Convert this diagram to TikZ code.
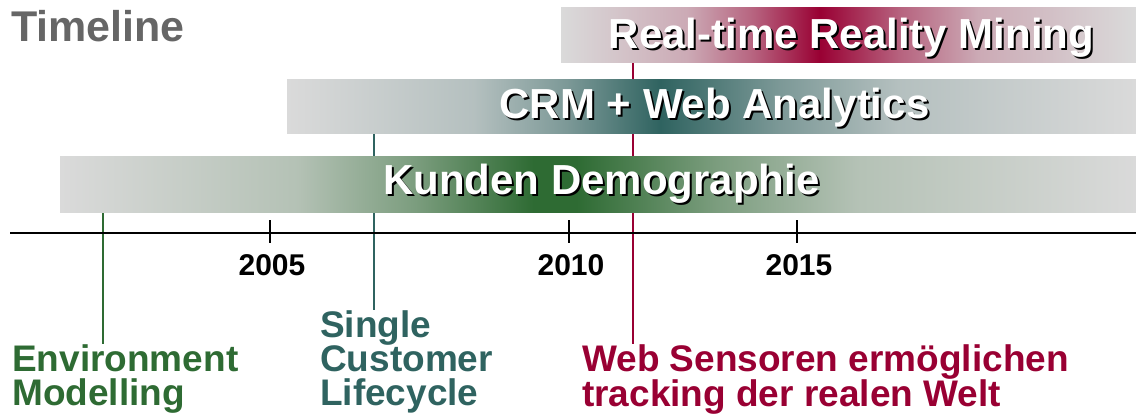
\documentclass[tikz,border=0pt]{standalone}
\usepackage{fontspec}
\setmainfont{Liberation Sans}
\usepackage{tikz}

\definecolor{envgreen}{RGB}{46,107,51}
\definecolor{custteal}{RGB}{47,99,96}
\definecolor{sensred}{RGB}{153,0,51}
\definecolor{bargray}{RGB}{218,218,218}
\definecolor{titlegray}{RGB}{102,102,102}
\colorlet{envlight}{envgreen!22!bargray}
\colorlet{envmid}{envgreen!55!bargray}
\colorlet{custlight}{custteal!22!bargray}
\colorlet{custmid}{custteal!55!bargray}
\colorlet{senslight}{sensred!22!bargray}
\colorlet{sensmid}{sensred!55!bargray}

% path box runs from 25bp to 75bp
\pgfdeclarehorizontalshading{kundenshade}{100bp}{color(0bp)=(bargray); color(25bp)=(bargray); color(36bp)=(envlight); color(41.5bp)=(envmid); color(47bp)=(envgreen); color(49bp)=(envgreen); color(55.5bp)=(envmid); color(62bp)=(envlight); color(75bp)=(bargray); color(100bp)=(bargray)}
\pgfdeclarehorizontalshading{crmshade}{100bp}{color(0bp)=(bargray); color(25bp)=(bargray); color(36bp)=(custlight); color(41.5bp)=(custmid); color(47bp)=(custteal); color(54bp)=(custmid); color(61bp)=(custlight); color(75bp)=(bargray); color(100bp)=(bargray)}
\pgfdeclarehorizontalshading{miningshade}{100bp}{color(0bp)=(bargray); color(25bp)=(bargray); color(36bp)=(senslight); color(41.8bp)=(sensmid); color(47.5bp)=(sensred); color(54.4bp)=(sensmid); color(61.3bp)=(senslight); color(75bp)=(bargray); color(100bp)=(bargray)}

\begin{document}
\begin{tikzpicture}[x=1pt, y=-1pt]
    \tikzstyle{bar} = [rectangle, inner sep=0pt]
    \tikzstyle{bartext} = [text=white, inner sep=0pt, anchor=base, font=\fontsize{42}{42}\selectfont\bfseries]
    \tikzstyle{barshadow} = [bartext, text=black]
    \tikzstyle{yearlabel} = [inner sep=0pt, anchor=base, font=\fontsize{30}{30}\selectfont\bfseries]
    \tikzstyle{event} = [inner sep=0pt, anchor=north west, align=left, font=\fontsize{37}{34}\selectfont\bfseries]
    \tikzstyle{marker} = [line width=2pt]

    \useasboundingbox (0,0) rectangle (1136,415);

    % Title
    \node[inner sep=0pt, anchor=base west, text=titlegray, font=\fontsize{43}{43}\selectfont\bfseries] (title) at (11,41) {Timeline};

    % Events
    \node[event, text=envgreen] (env) at (12,344) {Environment\\Modelling};
    \node[event, text=custteal] (scl) at (320,310) {Single\\Customer\\Lifecycle};
    \node[event, text=sensred] (web) at (582,344) {Web Sensoren ermöglichen\\tracking der realen Welt};

    % Markers, behind the bars
    \coordinate (envtop) at (103,212);
    \coordinate (scltop) at (374,133);
    \coordinate (webtop) at (633,62);
    \draw[marker, envgreen] (envtop) -- (envtop |- env.north);
    \draw[marker, custteal] (scltop) -- (scltop |- scl.north);
    \draw[marker, sensred] (webtop) -- (webtop |- web.north);

    % Time axis
    \coordinate (axstart) at (10,233);
    \coordinate (axend) at (1136,233);
    \draw[line width=2pt] (axstart) -- (axend);
    \foreach \x/\yr in {270/2005, 569/2010, 797/2015} {
        \draw[line width=2pt] (\x,220) -- (\x,243);
        \node[yearlabel] (y\yr) at (\x+2,275) {\yr};
    }

    % Bars
    \node[bar, shading=kundenshade, minimum width=1076pt, minimum height=56pt] (kbar) at (598,184) {};
    \node[bar, shading=crmshade, minimum width=849pt, minimum height=54pt] (cbar) at (711.5,106) {};
    \node[bar, shading=miningshade, minimum width=575pt, minimum height=55pt] (mbar) at (848.5,34.5) {};

    % Bar texts with drop shadow
    \node[barshadow] at (603.5,196) {Kunden Demographie};
    \node[bartext] (ktext) at (601.5,194) {Kunden Demographie};
    \node[barshadow] at (716.5,120) {CRM + Web Analytics};
    \node[bartext] (ctext) at (714.5,118) {CRM + Web Analytics};
    \node[barshadow] at (853.5,50) {Real-time Reality Mining};
    \node[bartext] (mtext) at (851.5,48) {Real-time Reality Mining};
\end{tikzpicture}
\end{document}
